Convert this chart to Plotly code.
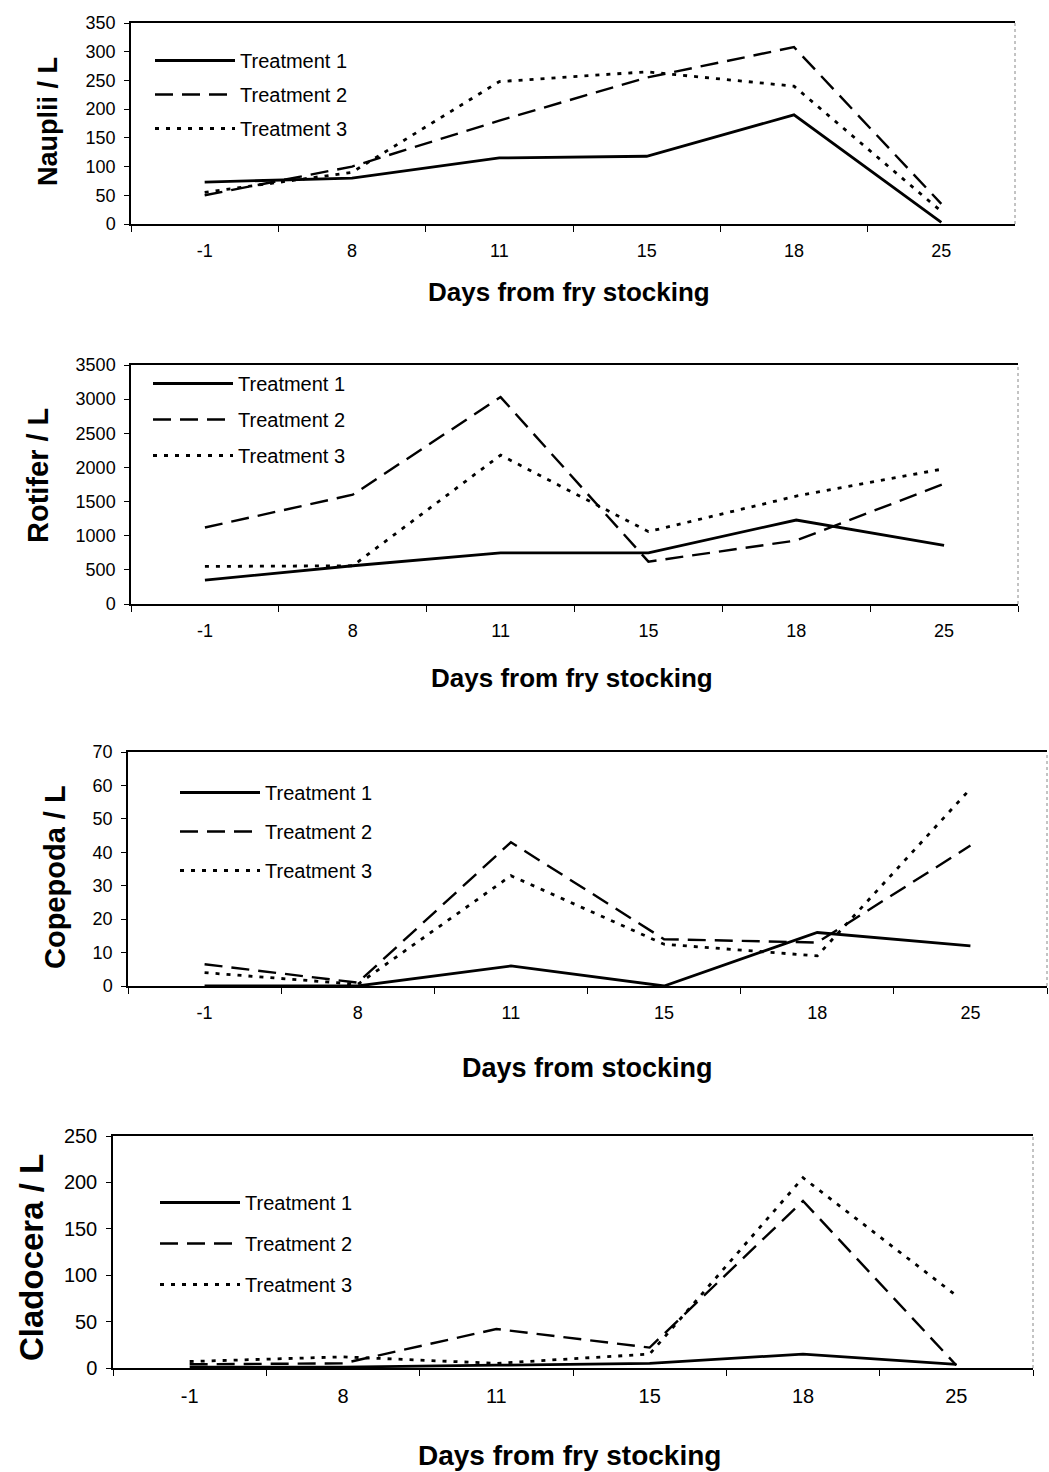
import plotly.graph_objects as go

W, H = 1049, 1472
FONT = "Liberation Sans, Arial, sans-serif"

days = ["-1", "8", "11", "15", "18", "25"]
treatments = ["Treatment 1", "Treatment 2", "Treatment 3"]

nauplii_t1 = [73, 80, 115, 118, 190, 3]
nauplii_t2 = [50, 100, 180, 255, 308, 35]
nauplii_t3 = [55, 90, 248, 265, 240, 22]

rotifer_t1 = [350, 560, 750, 750, 1230, 860]
rotifer_t2 = [1120, 1600, 3030, 620, 930, 1760]
rotifer_t3 = [550, 560, 2180, 1060, 1580, 1980]

copepoda_t1 = [0, 0, 6, 0, 16, 12]
copepoda_t2 = [6.5, 1, 43, 14, 13, 42]
copepoda_t3 = [4, 0.5, 33, 12.5, 9, 59]

cladocera_t1 = [1, 1, 3, 5, 15, 4]
cladocera_t2 = [4, 5, 42, 22, 180, 3]
cladocera_t3 = [7, 12, 5, 15, 205, 78]

y_titles = ["Nauplii / L", "Rotifer / L", "Copepoda / L", "Cladocera / L"]
x_titles = ["Days from fry stocking", "Days from fry stocking", "Days from stocking", "Days from fry stocking"]
y_ranges = [[0, 350], [0, 3500], [0, 70], [0, 250]]
y_dticks = [50, 500, 10, 50]

panels_data = [
    [nauplii_t1, nauplii_t2, nauplii_t3],
    [rotifer_t1, rotifer_t2, rotifer_t3],
    [copepoda_t1, copepoda_t2, copepoda_t3],
    [cladocera_t1, cladocera_t2, cladocera_t3],
]

# layout geometry (pixels)
boxes = [  # left, right, top, bottom
    (131, 1015, 23, 224),
    (131, 1018, 365, 604),
    (128, 1047, 752, 986),
    (113, 1033, 1136, 1368),
]
ytitle_pos = [(48, 122, 27), (38, 476, 29), (55, 877, 29), (31, 1258, 33)]
xtitle_pos = [(569, 292, 26), (572, 678, 26), (587, 1068, 27), (569, 1455, 28)]
legend_pos = [(150, 41, 5), (148, 364, 7), (175, 773, 10), (155, 1183, 12)]
tick_font = [18, 18, 18, 20]

styles = [
    dict(color="black", width=2.8, dash="solid"),
    dict(color="black", width=2.4, dash="18px,9px"),
    dict(color="black", width=2.8, dash="4px,7px"),
]

fig = go.Figure()
layout = dict(
    width=W, height=H, margin=dict(l=0, r=0, t=0, b=0, autoexpand=False),
    paper_bgcolor="white", plot_bgcolor="white",
    font=dict(family=FONT, color="black"),
    showlegend=True,
)
annotations = []
shapes = []

for i, (series, box) in enumerate(zip(panels_data, boxes)):
    l, r, t, b = box
    n = "" if i == 0 else str(i + 1)
    xa, ya = "x" + n, "y" + n
    leg = "legend" + n
    for j, vals in enumerate(series):
        fig.add_trace(go.Scatter(
            x=days, y=vals, mode="lines", name=treatments[j],
            line=styles[j], xaxis=xa, yaxis=ya, legend=leg,
            legendgroup=f"p{i}t{j}", hoverinfo="skip",
        ))
    layout["xaxis" + n] = dict(
        domain=[l / W, r / W], anchor=ya, type="category", automargin=False,
        range=[-0.5, 5.5], showline=True, linecolor="black", linewidth=2,
        mirror=True, ticks="outside", tickson="boundaries", ticklen=6,
        tickcolor="black", showgrid=False, zeroline=False,
        tickfont=dict(size=tick_font[i], family=FONT), ticklabelstandoff=9,
    )
    layout["yaxis" + n] = dict(
        domain=[1 - b / H, 1 - t / H], anchor=xa, range=y_ranges[i],
        automargin=False,
        dtick=y_dticks[i], showline=True, linecolor="black", linewidth=1.5,
        ticks="outside", ticklen=5, tickcolor="black", showgrid=False,
        zeroline=False, tickfont=dict(size=tick_font[i], family=FONT),
        ticklabelstandoff=5,
    )
    lx, ly, gap = legend_pos[i]
    layout[leg] = dict(
        x=lx / W, y=1 - ly / H, xanchor="left", yanchor="top",
        bgcolor="rgba(0,0,0,0)", borderwidth=0, itemwidth=80,
        tracegroupgap=gap, font=dict(size=20, family=FONT),
    )
    shapes.append(dict(
        type="line", xref=xa + " domain", yref=ya + " domain",
        x0=1, x1=1, y0=0, y1=1, line=dict(color="#888", width=1, dash="dot"),
    ))
    yx, yy, ys = ytitle_pos[i]
    annotations.append(dict(
        text=f"<b>{y_titles[i]}</b>", x=yx / W, y=1 - yy / H, xref="paper",
        yref="paper", showarrow=False, textangle=-90,
        font=dict(size=ys, family=FONT), xanchor="center", yanchor="middle",
    ))
    tx, ty, ts = xtitle_pos[i]
    annotations.append(dict(
        text=f"<b>{x_titles[i]}</b>", x=tx / W, y=1 - ty / H, xref="paper",
        yref="paper", showarrow=False, font=dict(size=ts, family=FONT),
        xanchor="center", yanchor="middle",
    ))

layout["annotations"] = annotations
layout["shapes"] = shapes
fig.update_layout(**layout)
fig.write_html(
    "out.html",
    config={"displayModeBar": False},
    post_script="document.body.style.margin='0';document.body.style.overflow='hidden';",
)
